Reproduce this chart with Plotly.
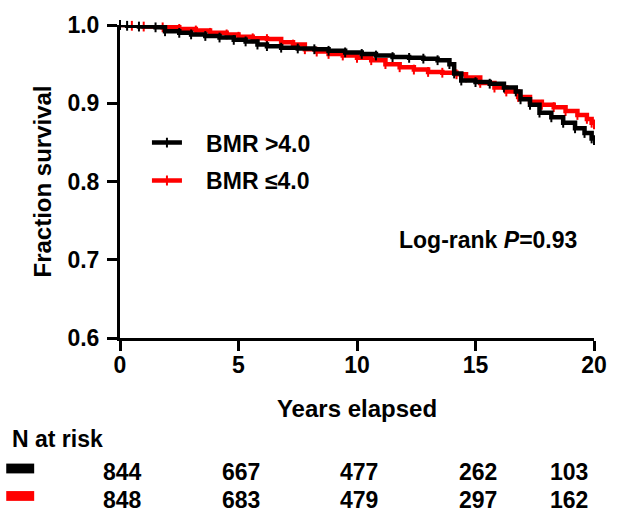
import plotly.graph_objects as go

# ---- data ----
t_high = [0, 0.3, 0.8, 1.5, 1.9, 2.5, 3.0, 3.6, 4.2, 4.8, 5.3, 5.8, 6.2, 6.8, 7.5, 8.2, 8.8, 9.5,
          10.2, 10.8, 11.5, 12.2, 12.8, 13.4, 13.9, 14.1, 14.4, 15.0, 15.6, 16.2, 16.7, 16.9, 17.3,
          17.7, 18.2, 18.7, 19.2, 19.6, 19.9, 20.0]
s_high = [1.0, 0.999, 0.998, 0.997, 0.992, 0.990, 0.988, 0.986, 0.984, 0.981, 0.979, 0.975, 0.973,
          0.971, 0.970, 0.969, 0.967, 0.965, 0.963, 0.961, 0.959, 0.958, 0.957, 0.955, 0.950, 0.938,
          0.929, 0.927, 0.925, 0.920, 0.915, 0.905, 0.898, 0.888, 0.882, 0.875, 0.868, 0.862, 0.855,
          0.853]

t_low = [0, 0.5, 1.0, 1.8, 2.5, 3.2, 3.8, 4.5, 5.0, 5.6, 6.2, 6.8, 7.3, 7.8, 8.3, 8.8, 9.4, 10.0,
         10.6, 11.2, 11.8, 12.4, 13.0, 13.6, 14.2, 14.6, 15.2, 15.8, 16.3, 16.8, 17.3, 17.8, 18.3,
         18.8, 19.3, 19.7, 19.9, 20.0]
s_low = [1.0, 0.999, 0.998, 0.997, 0.995, 0.993, 0.990, 0.988, 0.985, 0.983, 0.982, 0.978, 0.975,
         0.969, 0.966, 0.963, 0.961, 0.958, 0.955, 0.950, 0.946, 0.943, 0.940, 0.939, 0.937, 0.933,
         0.926, 0.920, 0.915, 0.908, 0.902, 0.898, 0.895, 0.890, 0.885, 0.880, 0.875, 0.873]

x_ticks = [0, 5, 10, 15, 20]
y_ticks = [0.6, 0.7, 0.8, 0.9, 1.0]
risk_high = [844, 667, 477, 262, 103]
risk_low = [848, 683, 479, 297, 162]
series_names = ["BMR >4.0", "BMR \u22644.0"]
series_colors = ["#000000", "#ff0000"]

FONT = "Liberation Sans, Arial, sans-serif"
NB = "\u00a0\u00a0\u00a0"

fig = go.Figure()
# red drawn first (below), black on top; legend ranks keep black first
for t, s, name, col, grp, rank in [(t_low, s_low, series_names[1], series_colors[1], "b", 2),
                                   (t_high, s_high, series_names[0], series_colors[0], "a", 1)]:
    fig.add_trace(go.Scatter(
        x=t, y=s, mode="lines+markers", name=NB + "<b>" + name + "</b>",
        line=dict(color=col, width=4.5, shape="hv"),
        marker=dict(symbol="line-ns", size=7, line=dict(color=col, width=2)),
        legendgroup=grp, legendrank=rank, cliponaxis=False,
    ))

W, H = 619, 514
L, R, T, B = 120, 24, 19, 176
pw, ph = W - L - R, H - T - B

def px_x(p):
    return (p - L) / pw

def px_y(p):
    return (H - B - p) / ph

fig.update_layout(
    width=W, height=H,
    margin=dict(l=L, r=R, t=T, b=B),
    paper_bgcolor="white", plot_bgcolor="white",
    font=dict(family=FONT, size=23, color="black"),
    showlegend=True,
    legend=dict(x=px_x(147), y=px_y(117), xanchor="left", yanchor="top",
                bgcolor="rgba(0,0,0,0)", font=dict(size=23, family=FONT),
                tracegroupgap=5, traceorder="grouped", itemwidth=30),
    xaxis=dict(range=[0, 20], tickvals=x_ticks, ticktext=[f"<b>{v}</b>" for v in x_ticks],
               showline=True, linecolor="black", linewidth=3, ticks="outside", ticklen=10,
               tickwidth=3, tickcolor="black", showgrid=False, zeroline=False,
               tickfont=dict(size=23, family=FONT), ticklabelstandoff=-6,
               title=dict(text="<b>Years elapsed</b>", font=dict(size=24, family=FONT), standoff=24)),
    yaxis=dict(range=[0.6, 1.0], tickvals=y_ticks, ticktext=[f"<b>{v:.1f}</b>" for v in y_ticks],
               showline=True, linecolor="black", linewidth=3, ticks="outside", ticklen=10,
               tickwidth=3, tickcolor="black", showgrid=False, zeroline=False,
               tickfont=dict(size=23, family=FONT), ticklabelstandoff=3,
               title=dict(text="<b>Fraction survival</b>", font=dict(size=24, family=FONT), standoff=10)),
)

# Log-rank annotation
fig.add_annotation(x=px_x(398), y=px_y(238), xref="paper", yref="paper", xanchor="left",
                   yanchor="middle", showarrow=False,
                   text="<b>Log-rank <i>P</i>=0.93</b>", font=dict(size=23, family=FONT))

# Risk table
fig.add_annotation(x=px_x(10), y=px_y(441), xref="paper", yref="paper", xanchor="left",
                   yanchor="middle", showarrow=False, text="<b>N at risk</b>",
                   font=dict(size=23, family=FONT))
for row, vals, col in [(475, risk_high, series_colors[0]), (503, risk_low, series_colors[1])]:
    fig.add_shape(type="rect", xref="paper", yref="paper",
                  x0=px_x(6), x1=px_x(34), y0=px_y(row - 9), y1=px_y(row + 1),
                  fillcolor=col, line=dict(width=0))
    for i, (xv, v) in enumerate(zip(x_ticks, vals)):
        last = i == len(vals) - 1
        fig.add_annotation(x=xv, y=px_y(row), xref="x", yref="paper",
                           xanchor="right" if last else "center", yanchor="middle",
                           xshift=-4 if last else 2, showarrow=False,
                           text=f"<b>{v}</b>", font=dict(size=23, family=FONT))

fig.write_html("out.html", config={"displayModeBar": False},
               post_script="document.body.style.margin='0';")
